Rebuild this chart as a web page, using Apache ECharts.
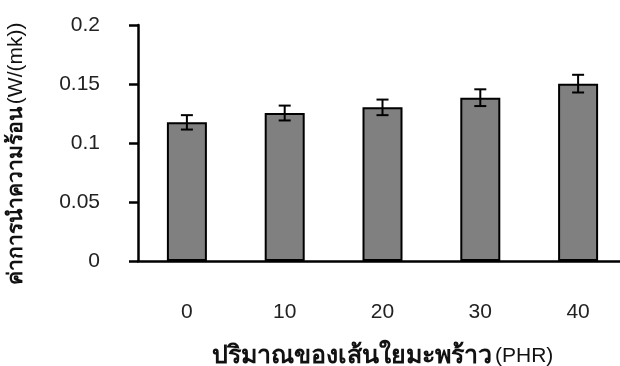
<!DOCTYPE html>
<html><head><meta charset="utf-8">
<script src="https://cdn.jsdelivr.net/npm/echarts@6/dist/echarts.min.js"></script>
<style>html,body{margin:0;padding:0;background:#fff}#c{width:620px;height:366px}</style>
</head><body><div id="c"></div>
<script>
var categories = ['0', '10', '20', '30', '40'];
var values = [0.1175, 0.1254, 0.1302, 0.1384, 0.1503];
var errors = [0.0061, 0.0063, 0.0066, 0.0071, 0.0075];
var yTicks = [0, 0.05, 0.1, 0.15, 0.2];

var chart = echarts.init(document.getElementById('c'));
var font = 'Liberation Sans, Arial, sans-serif';
chart.setOption({
  animation: false,
  grid: {left: 138, top: 25, width: 489, height: 236, containLabel: false, outerBoundsMode: 'none'},
  xAxis: {
    type: 'category', data: categories, boundaryGap: true,
    axisLine: {lineStyle: {color: '#000', width: 2.5}},
    axisTick: {length: 10, lineStyle: {color: '#000', width: 2.5}},
    axisLabel: {margin: 41, fontSize: 21, color: '#222', fontFamily: font},
    name: '{b|ปริมาณของเส้นใยมะพร้าว} {r|(PHR)}', nameLocation: 'middle', nameGap: 83,
    nameTextStyle: {rich: {b: {fontSize: 25, fontWeight: 'bold', color: '#111', fontFamily: font},
                           r: {fontSize: 21, color: '#111', fontFamily: font}}}
  },
  yAxis: {
    type: 'value', min: 0, max: 0.2, interval: 0.05,
    splitLine: {show: false},
    axisLine: {show: true, lineStyle: {color: '#000', width: 2.5}},
    axisTick: {show: true, length: 9, lineStyle: {color: '#000', width: 2.5}},
    axisLabel: {margin: 38, fontSize: 21, color: '#222', fontFamily: font,
      formatter: function (v) { var i = yTicks.indexOf(v); return i >= 0 ? String(yTicks[i]) : ''; }},
    name: '{b|ค่าการนำความร้อน} {r|(W/(mk))}', nameLocation: 'middle', nameGap: 111, nameRotate: 90,
    nameTextStyle: {padding: [0, 22, 0, 0],
                    rich: {b: {fontSize: 21, fontWeight: 'bold', color: '#111', fontFamily: font},
                           r: {fontSize: 21, color: '#111', fontFamily: font}}}
  },
  series: [{
    type: 'bar', data: values, barWidth: 40,
    itemStyle: {color: '#808080', borderColor: '#000', borderWidth: 2}
  }, {
    type: 'custom', z: 10,
    data: values.map(function (v, i) { return [i, v - errors[i], v + errors[i]]; }),
    renderItem: function (params, api) {
      var lo = api.coord([api.value(0), api.value(1)]);
      var hi = api.coord([api.value(0), api.value(2)]);
      var x = lo[0], hw = 6;
      var st = {stroke: '#000', lineWidth: 2};
      return {type: 'group', children: [
        {type: 'line', shape: {x1: x, y1: lo[1], x2: x, y2: hi[1]}, style: st},
        {type: 'line', shape: {x1: x - hw, y1: lo[1], x2: x + hw, y2: lo[1]}, style: st},
        {type: 'line', shape: {x1: x - hw, y1: hi[1], x2: x + hw, y2: hi[1]}, style: st}
      ]};
    }
  }]
});
</script></body></html>
